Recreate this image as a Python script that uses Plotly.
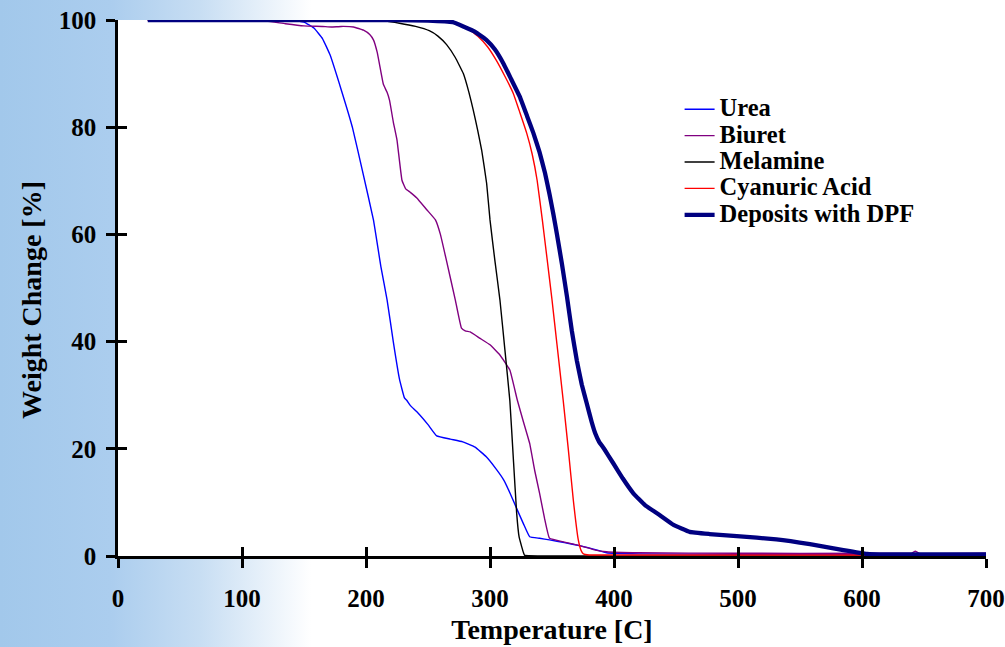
import base64
import plotly.graph_objects as go

# ---------------- data ----------------
urea_T = [24, 60, 100, 140, 150, 158, 165, 171, 180, 189, 197, 206, 212, 217, 222, 227, 231, 233, 236, 241,
          250, 257, 268, 278, 288, 297, 305, 311, 316, 322, 327, 332, 340, 348, 360, 373, 385, 394, 420, 500, 600, 700]
urea_W = [100, 100, 100, 99.9, 99.6, 98.5, 96.5, 93.5, 87, 80, 72, 62.7, 54, 47.8, 40, 33, 29.5, 29, 28, 26.9,
          24.5, 22.4, 21.8, 21.3, 20.3, 18.5, 16.2, 14.2, 11.8, 8.6, 6, 3.6, 3.3, 3.0, 2.5, 1.9, 1.2, 0.6, 0.4, 0.3, 0.3, 0.3]

biuret_T = [24, 100, 120, 135, 150, 165, 172, 180, 190, 198, 203, 206, 209, 211, 214, 217, 219, 222, 225, 229,
            232, 236, 241, 249, 256, 260, 265, 272, 277, 280, 284, 292, 300, 308, 316, 322, 327, 332, 336, 340,
            344, 348, 360, 373, 385, 394, 420, 500, 600, 640, 643, 646, 700]
biuret_W = [100, 100, 99.8, 99.3, 98.9, 98.8, 98.7, 98.8, 98.7, 98.1, 97.3, 96.3, 94, 91.6, 88, 86.5, 85, 81, 77.6, 70.1,
            68.5, 67.8, 66.8, 64.6, 62.7, 60, 55, 47.8, 42.5, 42, 41.8, 40.6, 39.4, 37.5, 34.7, 29.1, 25, 21, 16, 11.7,
            7, 3.3, 2.6, 1.9, 1.1, 0.8, 0.6, 0.5, 0.5, 0.5, 0.9, 0.5, 0.5]

melamine_T = [24, 150, 200, 215, 227, 240, 251, 258, 265, 272, 278.5, 283, 286.5, 290, 293.3, 297.3, 300, 304,
              308, 312, 316, 319, 321.5, 323.5, 325.6, 327, 328, 340, 700]
melamine_W = [100, 100, 99.9, 99.8, 99.4, 98.8, 98.0, 97.0, 95.4, 93.0, 90, 86.5, 83.2, 79.5, 75.7, 69.5, 62.7, 55,
              47.8, 38.5, 29, 17.5, 8, 3.5, 1.7, 0.6, 0.1, 0, 0]

cyanuric_T = [24, 200, 250, 270, 280, 290, 298, 305, 312, 318.8, 324, 329.6, 334, 338, 342.2, 346, 350, 354, 359,
              363.2, 367.2, 371.2, 373.5, 375.3, 380, 420, 500, 610, 700]
cyanuric_W = [100, 100, 99.9, 99.6, 98.8, 97, 95, 92.5, 89.5, 86.3, 82.8, 78.9, 75, 70.1, 62.7, 55.5, 47.8, 39.5, 29.1,
              19.8, 10.4, 3.0, 1.0, 0.4, 0.2, 0.2, 0.2, 0.2, 0.2]

deposit_T = [24, 200, 250, 270, 278.5, 288, 297, 304, 310.8, 317, 324, 330, 335, 340, 344.4, 348, 351, 354, 358,
             362, 366, 370, 374, 378, 382, 385, 388, 392, 399.4, 407, 415.6, 425, 437, 448, 461, 477, 499, 531,
             558, 585, 604, 620, 700]
deposit_W = [100, 100, 99.9, 99.6, 98.8, 97.8, 96.3, 94.5, 91.9, 89, 85.7, 82, 78.9, 75.3, 71.4, 67.5, 63.9, 60, 54.5,
             48.5, 42, 36.5, 32, 28.5, 25, 22.8, 21.3, 20, 17.3, 14.5, 11.7, 9.5, 7.6, 5.8, 4.5, 4.1, 3.7, 3.1,
             2.2, 1.1, 0.4, 0.3, 0.3]

series_names = ["Urea", "Biuret", "Melamine", "Cyanuric Acid", "Deposits with DPF"]
x_title = "Temperature [C]"
y_title = "Weight Change [%]"
x_ticks = [0, 100, 200, 300, 400, 500, 600, 700]
y_ticks = [0, 20, 40, 60, 80, 100]

# ---------------- styling ----------------
W_FIG, H_FIG = 1005, 647
ML, MR, MT, MB = 118, 19, 20, 91
FONT = "Liberation Serif, Times New Roman, serif"

series = [
    (urea_T, urea_W, "#0000ff", 1.4),
    (biuret_T, biuret_W, "#800080", 1.4),
    (melamine_T, melamine_W, "#000000", 1.4),
    (cyanuric_T, cyanuric_W, "#ff0000", 1.4),
    (deposit_T, deposit_W, "#000080", 4.3),
]

fig = go.Figure()
for (t, w, col, lw), name in zip(series, series_names):
    fig.add_trace(go.Scatter(
        x=t, y=w, mode="lines", name=f'<span style="font-size:24.5px">{name}</span>',
        line=dict(color=col, width=lw, shape="spline", smoothing=0.3),
        xaxis="x", yaxis="y"))

pw, ph = W_FIG - ML - MR, H_FIG - MT - MB
svg = (
    f'<svg xmlns="http://www.w3.org/2000/svg" width="{W_FIG}" height="{H_FIG}" '
    f'viewBox="0 0 {W_FIG} {H_FIG}" preserveAspectRatio="none">'
    '<defs><linearGradient id="g" x1="0" y1="0" x2="1" y2="0">'
    '<stop offset="0" stop-color="#a2c8eb"/><stop offset="0.11" stop-color="#abcdee"/>'
    '<stop offset="0.2" stop-color="#c8def3"/><stop offset="0.31" stop-color="#ffffff"/>'
    '</linearGradient></defs>'
    f'<rect width="{W_FIG}" height="{H_FIG}" fill="url(#g)"/>'
    f'<rect x="{ML}" y="{MT}" width="{pw}" height="{ph}" fill="#ffffff"/></svg>'
)
src = "data:image/svg+xml;base64," + base64.b64encode(svg.encode()).decode()

axis_common = dict(showgrid=False, zeroline=False, tickcolor="black", tickwidth=2.5, ticklen=9,
                   mirror=False, automargin=False)

fig.update_layout(
    width=W_FIG, height=H_FIG,
    margin=dict(l=ML, r=MR, t=MT, b=MB, autoexpand=False),
    paper_bgcolor="white", plot_bgcolor="white",
    font=dict(family=FONT, size=25, color="black", weight="bold"),
    showlegend=True,
    legend=dict(x=0.647, y=0.8675, xanchor="left", yanchor="top",
                bgcolor="rgba(0,0,0,0)", borderwidth=0,
                font=dict(family=FONT, size=18, color="black", weight="bold")),
    xaxis=dict(range=[0, 700], tickvals=x_ticks, ticks="outside", showline=True,
               linecolor="black", linewidth=2.5, ticklabelstandoff=9,
               title=dict(text=x_title, standoff=9, font=dict(size=28, weight="bold")),
               **axis_common),
    yaxis=dict(range=[0, 100], tickvals=y_ticks, ticks="outside", showline=True,
               linecolor="black", linewidth=2.5, ticklabelstandoff=5,
               **axis_common),
    xaxis2=dict(range=[0, 700], tickvals=x_ticks, ticks="inside", overlaying="x", anchor="y",
                side="bottom", showticklabels=False, showline=False, **axis_common),
    yaxis2=dict(range=[0, 100], tickvals=y_ticks, ticks="inside", overlaying="y", anchor="x",
                side="left", showticklabels=False, showline=False, **axis_common),
    annotations=[dict(text=y_title, xref="paper", yref="paper", x=-(ML - 31) / pw,
                      y=1 - (300 - MT) / ph, xanchor="center", yanchor="middle", textangle=-90,
                      showarrow=False, font=dict(family=FONT, size=28, color="black", weight="bold"))],
    images=[dict(source=src, xref="paper", yref="paper", x=-ML / pw, y=1 + MT / ph,
                 sizex=W_FIG / pw, sizey=H_FIG / ph, sizing="stretch", layer="below",
                 xanchor="left", yanchor="top")],
)
# invisible helper trace so the overlaid tick axes are drawn
fig.add_trace(go.Scatter(x=[x_ticks[0]], y=[y_ticks[0]], xaxis="x2", yaxis="y2",
                         mode="markers", marker=dict(opacity=0), showlegend=False, hoverinfo="skip"))

fig.write_html("out.html", config={"displayModeBar": False},
               post_script="document.body.style.margin='0';document.body.style.overflow='hidden';")
